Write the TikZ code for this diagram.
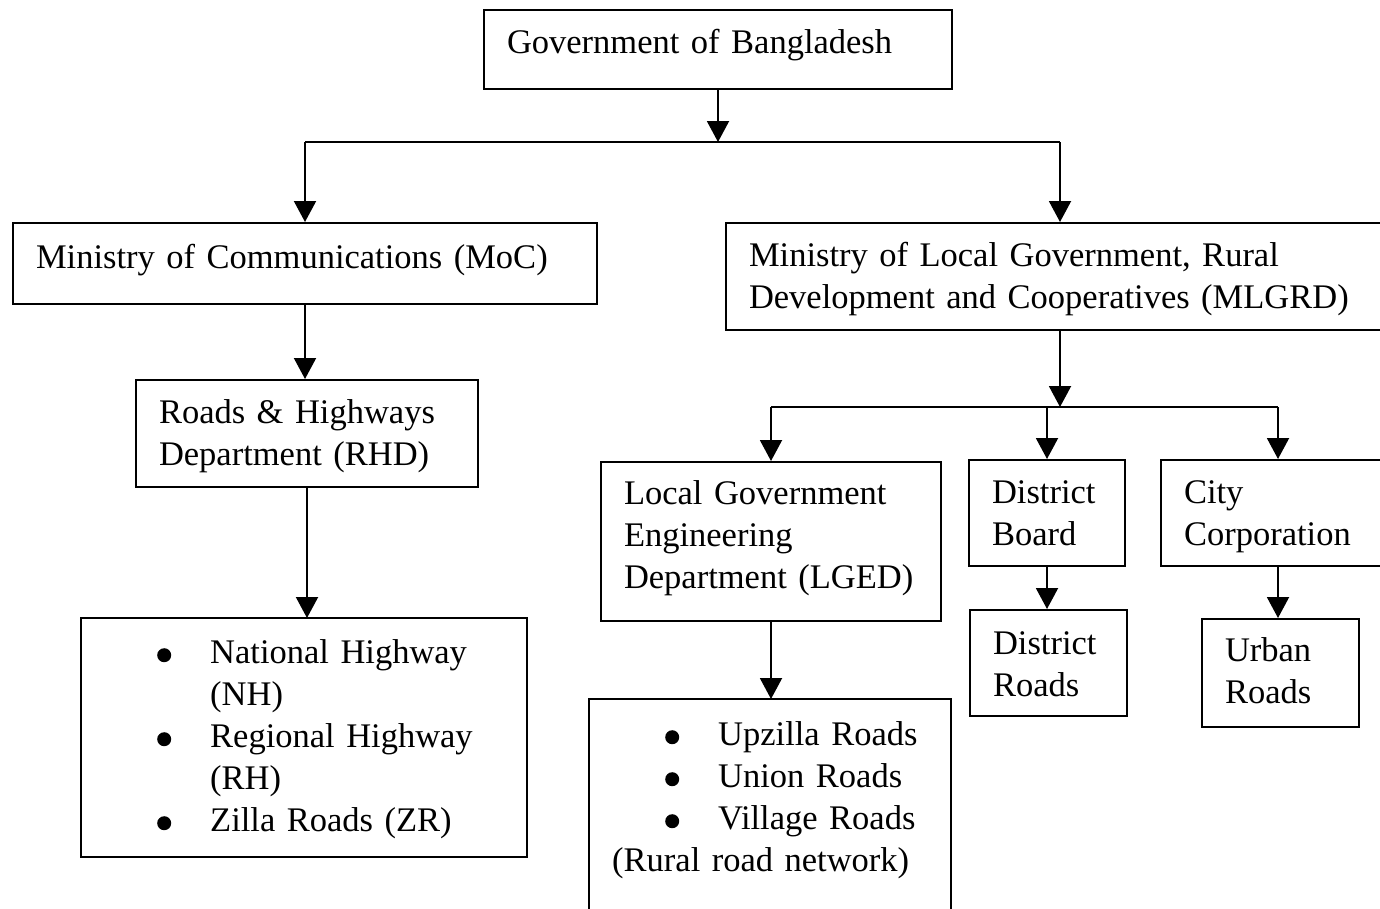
\documentclass[tikz,border=0pt]{standalone}
\usepackage{fontspec}
\setmainfont{Liberation Serif}
\usetikzlibrary{arrows.meta}

% bulleted road classes with a hanging indent
\newcommand{\roaddot}{\tikz[baseline=0pt]\fill (7pt,8pt) circle[radius=7pt];}
\newcommand{\roaditem}[1]{\hspace*{53pt}\makebox[53pt][l]{\roaddot}#1}
\newcommand{\roadwrap}[1]{\hspace*{106pt}#1}

\begin{document}
\begin{tikzpicture}[x=1pt,y=-1pt,line width=2pt,
    every node/.style={font=\fontsize{34.5}{42}\selectfont},
    box/.style={draw,anchor=north west,align=left,inner xsep=23pt,inner ysep=0pt},
    link/.style={-{Triangle[length=21pt,width=22pt]}}]
  \clip (0,0) rectangle (1380,908);
  \fill[white] (0,0) rectangle (1380,908);

  % top level
  \node[box,text width=422pt,text height=43pt,text depth=36pt] (gov) at (483,9) {Government of Bangladesh};

  % ministries
  \node[box,text width=538pt,text height=45pt,text depth=36pt] (moc) at (12,222) {Ministry of Communications (MoC)};
  \node[box,text width=622pt,text height=43pt,text depth=64pt] (mlgrd) at (725,222)
    {Ministry of Local Government, Rural\\Development and Cooperatives (MLGRD)};

  % MoC side
  \node[box,text width=296pt,text height=43pt,text depth=64pt] (rhd) at (135,379) {Roads \& Highways\\Department (RHD)};
  \node[box,text width=400pt,text height=45pt,text depth=194pt] (nh) at (81,618)
    {\roaditem{National Highway}\\\roadwrap{(NH)}\\\roaditem{Regional Highway}\\\roadwrap{(RH)}\\\roaditem{Zilla Roads (ZR)}};

  % MLGRD side
  \node[box,text width=294pt,text height=42pt,text depth=117pt] (lged) at (600,461) {Local Government\\Engineering\\Department (LGED)};
  \node[box,text width=110pt,text height=43pt,text depth=63pt] (board) at (968,459) {District\\Board};
  \node[box,text width=188pt,text height=43pt,text depth=63pt] (city) at (1160,459) {City\\Corporation};
  \node[box,text width=111pt,text height=44pt,text depth=62pt] (droads) at (969,609) {District\\Roads};
  \node[box,text width=111pt,text height=42pt,text depth=66pt] (urban) at (1201,618) {Urban\\Roads};
  \node[box,text width=316pt,text height=46pt,text depth=235pt] (rural) at (589,699)
    {\roaditem{Upzilla Roads}\\\roaditem{Union Roads}\\\roaditem{Village Roads}\\(Rural road network)};

  % branch lines
  \coordinate (ministries) at (0,142);
  \coordinate (agencies) at (0,407);

  \draw[link] (gov.south) -- (gov.south |- ministries);
  \draw (moc.north |- ministries) -- (mlgrd.north |- ministries);
  \draw[link] (moc.north |- ministries) -- (moc.north);
  \draw[link] (mlgrd.north |- ministries) -- (mlgrd.north);

  \draw[link] (moc.south) -- (moc.south |- rhd.north);
  \draw[link] (rhd.south) -- (rhd.south |- nh.north);

  \draw[link] (mlgrd.south) -- (mlgrd.south |- agencies);
  \draw (lged.north |- agencies) -- (city.north |- agencies);
  \draw[link] (lged.north |- agencies) -- (lged.north);
  \draw[link] (board.north |- agencies) -- (board.north);
  \draw[link] (city.north |- agencies) -- (city.north);

  \draw[link] (lged.south) -- (lged.south |- rural.north);
  \draw[link] (board.south) -- (board.south |- droads.north);
  \draw[link] (city.south) -- (city.south |- urban.north);
\end{tikzpicture}
\end{document}
